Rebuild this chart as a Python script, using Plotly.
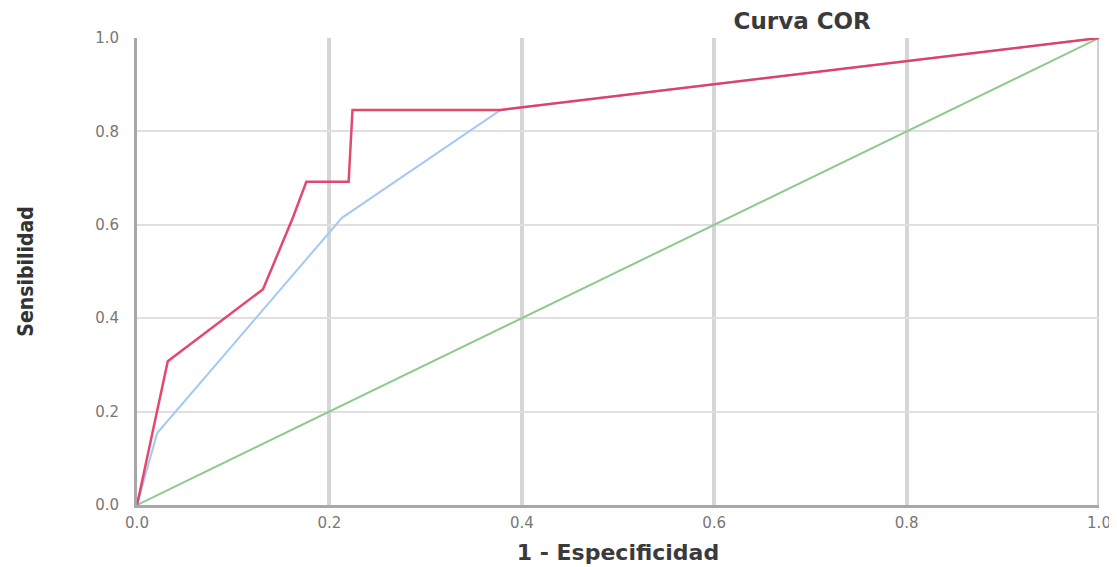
import plotly.graph_objects as go

# Data
red_x = [0.0, 0.032, 0.131, 0.162, 0.176, 0.220, 0.224, 0.378, 1.0]
red_y = [0.0, 0.308, 0.462, 0.615, 0.692, 0.692, 0.846, 0.846, 1.0]
blue_x = [0.0, 0.021, 0.213, 0.378, 1.0]
blue_y = [0.0, 0.154, 0.615, 0.846, 1.0]
ref_x = [0.0, 1.0]
ref_y = [0.0, 1.0]
tick_vals = [0.0, 0.2, 0.4, 0.6, 0.8, 1.0]
tick_text = ["0.0", "0.2", "0.4", "0.6", "0.8", "1.0"]

fig = go.Figure()
fig.add_trace(go.Scatter(x=ref_x, y=ref_y, mode="lines",
                         line=dict(color="#8ec98e", width=2), showlegend=False))
fig.add_trace(go.Scatter(x=blue_x, y=blue_y, mode="lines",
                         line=dict(color="#a4c8f4", width=2), showlegend=False))
fig.add_trace(go.Scatter(x=red_x, y=red_y, mode="lines",
                         line=dict(color="#e2355f", width=2.5), opacity=0.9, showlegend=False))

fig.update_layout(
    width=1117, height=567,
    margin=dict(l=129, r=26, t=30, b=70, autoexpand=False),
    paper_bgcolor="white", plot_bgcolor="white",
    font=dict(family="DejaVu Sans, sans-serif", color="#555555"),
    title=dict(text="<b>Curva COR</b>", x=0.711, xref="container", xanchor="center",
               y=0.978, yref="container", yanchor="middle", automargin=False,
               font=dict(size=23, color="#3a3a3a", family="DejaVu Sans, sans-serif")),
    xaxis=dict(range=[0, 1], tickvals=tick_vals, ticktext=tick_text, automargin=False,
               showgrid=True, gridcolor="#d6d6d6", gridwidth=4,
               showline=True, linecolor="#a8a8a8", linewidth=3, mirror=False,
               zeroline=False, ticks="", tickfont=dict(size=15, color="#777777"),
               ticklabelstandoff=2,
               title=dict(text="<b>1 - Especificidad</b>", standoff=14,
                          font=dict(size=22, color="#3a3a3a", family="DejaVu Sans, sans-serif"))),
    yaxis=dict(range=[0, 1], tickvals=tick_vals, ticktext=tick_text, automargin=False,
               showgrid=True, gridcolor="#e0e0e0", gridwidth=2,
               showline=True, linecolor="#a8a8a8", linewidth=3,
               zeroline=False, ticks="", tickfont=dict(size=15, color="#777777"),
               ticklabelstandoff=12,
               title=dict(text="<b>Sensibilidad</b>", standoff=56,
                          font=dict(size=21, color="#333333",
                                    family="DejaVu Sans Condensed, Liberation Sans Narrow, sans-serif"))),
)
# right border line at x = 1
fig.add_shape(type="line", xref="x", yref="paper", x0=1, x1=1, y0=0, y1=1,
              line=dict(color="#d0d0d0", width=4), layer="below")

fig.write_html("out.html")
